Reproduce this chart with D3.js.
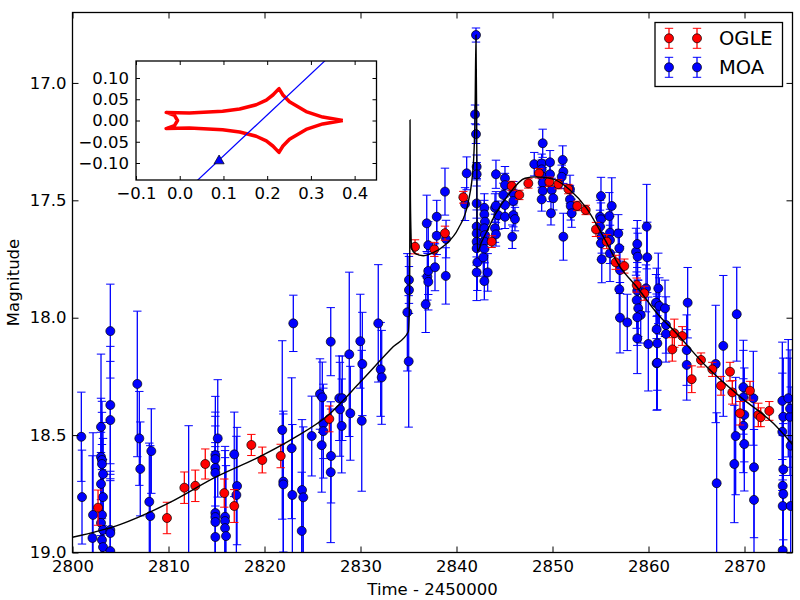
<!DOCTYPE html>
<html>
<head>
<meta charset="utf-8">
<script src="https://cdn.jsdelivr.net/npm/d3@7"></script>
<style>
  body { margin: 0; background: #fff; }
  text { font-family: "DejaVu Sans", sans-serif; }
</style>
</head>
<body>
<div id="chart"></div>
<script>
// MOA photometry: [time - 2450000, magnitude, error]
var moa = [
  [2800.92, 18.507, 0.19], [2800.99, 18.764, 0.20], [2802.08, 18.938, 0.35], [2802.14, 18.840, 0.35],
  [2802.97, 18.465, 0.31], [2802.97, 18.593, 0.25], [2803.07, 18.606, 0.25], [2803.07, 18.623, 0.22],
  [2803.18, 18.666, 0.22], [2802.97, 18.708, 0.22], [2803.18, 18.764, 0.25], [2803.07, 18.840, 0.30],
  [2802.97, 18.874, 0.30], [2803.18, 18.904, 0.30], [2803.07, 18.947, 0.30], [2803.18, 18.977, 0.30],
  [2803.94, 18.904, 0.25], [2803.94, 18.917, 0.25], [2803.94, 18.994, 0.30], [2803.94, 18.057, 0.20],
  [2803.94, 18.372, 0.25], [2803.94, 18.436, 0.25],
  [2806.75, 18.282, 0.31], [2806.96, 18.514, 0.20], [2807.06, 18.644, 0.20], [2808.21, 18.568, 0.18],
  [2808.00, 18.784, 0.25], [2808.10, 18.845, 0.30], [2812.10, 19.050, 0.59],
  [2815.13, 18.514, 0.25], [2814.88, 18.585, 0.25], [2814.88, 18.602, 0.20], [2814.88, 18.640, 0.22],
  [2814.88, 18.661, 0.20], [2814.88, 18.832, 0.30], [2814.88, 18.849, 0.30], [2814.88, 18.870, 0.30],
  [2814.88, 18.934, 0.30], [2815.89, 18.848, 0.30], [2815.89, 18.866, 0.30], [2815.89, 18.896, 0.30],
  [2815.99, 18.930, 0.30], [2816.85, 18.582, 0.18], [2817.14, 18.717, 0.25], [2817.07, 18.755, 0.25],
  [2823.00, 18.024, 0.12], [2821.85, 18.478, 0.38], [2821.96, 18.698, 0.30], [2821.96, 18.710, 0.30],
  [2822.83, 18.556, 0.30], [2822.90, 18.755, 0.30], [2823.91, 18.734, 0.30], [2824.04, 18.765, 0.30],
  [2823.88, 18.908, 0.25], [2824.92, 18.504, 0.17], [2825.78, 18.325, 0.15], [2826.02, 18.339, 0.15],
  [2826.13, 18.450, 0.15], [2826.13, 18.483, 0.20], [2825.96, 18.543, 0.20], [2826.90, 18.102, 0.145],
  [2826.93, 18.589, 0.20], [2826.90, 18.658, 0.30], [2827.79, 18.343, 0.18], [2828.10, 18.343, 0.18],
  [2827.86, 18.390, 0.20], [2828.04, 18.461, 0.20], [2828.83, 18.156, 0.35], [2828.94, 18.407, 0.20],
  [2829.98, 18.100, 0.20], [2830.19, 18.197, 0.22], [2830.13, 18.439, 0.30], [2831.85, 18.024, 0.25],
  [2832.10, 18.220, 0.20], [2832.21, 18.254, 0.20], [2834.88, 17.977, 0.25], [2835.02, 18.186, 0.28],
  [2835.05, 17.839, 0.10], [2835.05, 17.882, 0.10],
  [2836.79, 17.943, 0.12], [2836.96, 17.825, 0.10], [2837.06, 17.801, 0.10], [2837.06, 17.847, 0.12],
  [2837.76, 17.785, 0.10], [2836.90, 17.598, 0.12], [2837.06, 17.691, 0.10], [2837.94, 17.651, 0.08],
  [2837.94, 17.570, 0.07], [2838.80, 17.463, 0.10], [2838.91, 17.665, 0.08], [2838.88, 17.822, 0.12],
  [2840.89, 17.516, 0.07], [2841.06, 17.385, 0.07], [2842.03, 16.796, 0.03], [2841.93, 17.134, 0.04],
  [2842.03, 17.218, 0.04], [2842.10, 17.357, 0.05], [2842.10, 17.389, 0.05], [2842.10, 17.513, 0.10],
  [2842.10, 17.612, 0.10], [2842.10, 17.641, 0.10], [2842.10, 17.676, 0.10], [2842.10, 17.704, 0.10],
  [2842.17, 17.764, 0.12], [2842.10, 17.807, 0.12], [2842.90, 17.532, 0.06], [2842.90, 17.560, 0.06],
  [2842.97, 17.591, 0.06], [2842.90, 17.619, 0.06], [2842.97, 17.648, 0.06], [2842.90, 17.676, 0.06],
  [2842.90, 17.707, 0.06], [2842.79, 17.743, 0.08], [2842.90, 17.844, 0.08], [2843.25, 17.807, 0.08],
  [2844.01, 17.532, 0.06], [2844.01, 17.619, 0.06], [2844.11, 17.645, 0.05], [2844.11, 17.389, 0.06],
  [2844.11, 17.523, 0.06], [2844.35, 17.563, 0.06], [2845.05, 17.406, 0.05], [2845.05, 17.435, 0.05],
  [2844.88, 17.477, 0.05], [2845.05, 17.520, 0.05], [2845.05, 17.570, 0.05], [2845.92, 17.470, 0.05],
  [2845.92, 17.503, 0.05], [2845.92, 17.563, 0.05], [2846.09, 17.580, 0.05], [2845.81, 17.655, 0.05],
  [2848.98, 17.257, 0.06], [2848.10, 17.346, 0.05], [2848.87, 17.343, 0.04], [2848.87, 17.368, 0.04],
  [2849.74, 17.338, 0.05], [2848.98, 17.400, 0.04], [2848.98, 17.425, 0.04], [2848.98, 17.460, 0.04],
  [2848.87, 17.496, 0.05], [2849.74, 17.389, 0.04], [2849.92, 17.456, 0.05], [2850.08, 17.491, 0.05],
  [2849.84, 17.555, 0.05], [2851.06, 17.328, 0.06], [2851.13, 17.378, 0.05], [2850.96, 17.400, 0.05],
  [2851.82, 17.453, 0.06], [2851.82, 17.496, 0.06], [2851.90, 17.524, 0.06], [2852.00, 17.555, 0.06],
  [2851.13, 17.655, 0.10], [2855.05, 17.482, 0.08], [2854.95, 17.570, 0.07], [2855.05, 17.581, 0.07],
  [2854.95, 17.612, 0.07], [2855.13, 17.655, 0.07], [2855.05, 17.683, 0.07], [2855.13, 17.751, 0.10],
  [2856.17, 17.524, 0.12], [2855.92, 17.567, 0.10], [2855.99, 17.638, 0.10], [2855.99, 17.669, 0.10],
  [2855.99, 17.726, 0.12], [2856.85, 17.641, 0.08], [2856.96, 17.704, 0.08], [2857.03, 17.797, 0.10],
  [2856.96, 17.879, 0.12], [2857.03, 18.000, 0.15], [2857.79, 18.020, 0.12], [2858.70, 17.719, 0.10],
  [2858.83, 17.686, 0.10], [2858.87, 17.740, 0.10], [2859.81, 17.612, 0.18], [2859.87, 17.743, 0.15],
  [2858.83, 17.885, 0.12], [2858.77, 17.925, 0.12], [2858.93, 17.960, 0.12], [2859.19, 17.988, 0.12],
  [2858.83, 17.998, 0.12], [2858.83, 18.088, 0.15], [2859.98, 18.112, 0.20], [2860.85, 17.939, 0.15],
  [2860.85, 18.049, 0.15], [2860.92, 18.109, 0.20], [2860.85, 18.194, 0.20],
  [2859.74, 17.875, 0.10], [2861.02, 17.875, 0.15], [2860.78, 17.936, 0.12], [2861.13, 17.950, 0.12],
  [2861.72, 17.960, 0.12], [2861.82, 18.031, 0.12], [2861.82, 18.069, 0.12], [2860.92, 18.192, 0.20],
  [2864.08, 17.936, 0.15], [2863.98, 18.138, 0.15], [2863.98, 18.201, 0.15], [2869.19, 17.985, 0.20],
  [2867.79, 18.120, 0.30], [2867.00, 18.197, 0.25], [2867.10, 18.705, 0.30], [2869.08, 18.504, 0.25],
  [2868.94, 18.623, 0.25], [2869.88, 18.296, 0.20], [2869.88, 18.339, 0.20], [2869.98, 18.414, 0.20],
  [2869.88, 18.460, 0.20], [2869.98, 18.538, 0.20], [2870.92, 18.343, 0.20], [2870.99, 18.637, 0.30],
  [2870.99, 18.776, 0.30], [2873.94, 18.354, 0.25], [2874.56, 18.343, 0.25], [2874.04, 18.422, 0.25],
  [2874.74, 18.422, 0.25], [2873.94, 18.486, 0.25], [2874.04, 18.646, 0.30], [2873.98, 18.716, 0.30],
  [2874.04, 18.751, 0.30], [2873.98, 18.802, 0.30], [2874.81, 18.802, 0.30], [2874.81, 18.545, 0.25],
  [2874.74, 18.387, 0.25], [2873.98, 18.991, 0.30]
];

// OGLE photometry: [time - 2450000, magnitude, error]
var ogle = [
  [2802.66, 18.809, 0.075], [2809.84, 18.853, 0.067], [2811.65, 18.724, 0.067], [2812.79, 18.716, 0.067],
  [2813.83, 18.623, 0.064], [2815.81, 18.747, 0.060], [2816.85, 18.802, 0.070], [2818.63, 18.542, 0.045],
  [2819.77, 18.606, 0.055], [2821.69, 18.589, 0.050], [2826.75, 18.431, 0.055], [2835.68, 17.698, 0.030],
  [2837.69, 17.709, 0.030], [2838.80, 17.640, 0.030], [2840.71, 17.487, 0.025], [2843.66, 17.676, 0.025],
  [2845.75, 17.439, 0.020], [2846.54, 17.477, 0.020], [2847.48, 17.428, 0.020], [2848.60, 17.385, 0.020],
  [2849.67, 17.421, 0.020], [2850.60, 17.431, 0.020], [2851.65, 17.452, 0.020], [2852.58, 17.524, 0.020],
  [2853.46, 17.541, 0.020], [2854.53, 17.624, 0.030], [2855.65, 17.676, 0.030], [2856.58, 17.764, 0.030],
  [2857.48, 17.780, 0.030], [2858.77, 17.861, 0.030], [2859.56, 17.896, 0.030], [2862.69, 18.066, 0.060],
  [2863.52, 18.078, 0.040], [2862.48, 18.135, 0.050], [2864.50, 18.262, 0.057], [2865.47, 18.180, 0.030],
  [2866.65, 18.220, 0.030], [2867.55, 18.290, 0.040], [2868.49, 18.230, 0.040], [2868.73, 18.318, 0.050],
  [2869.53, 18.407, 0.050], [2870.57, 18.311, 0.040], [2871.44, 18.414, 0.050], [2871.69, 18.424, 0.040],
  [2872.58, 18.397, 0.040]
];

// binary-lens model light curve: [time - 2450000, magnitude]
var model = [
  [2800.00, 18.935], [2805.00, 18.880], [2810.00, 18.790], [2815.00, 18.677], [2819.50, 18.592],
  [2823.00, 18.514], [2826.50, 18.420], [2830.00, 18.273], [2833.40, 18.124], [2834.98, 18.060],
  [2835.12, 17.900], [2835.15, 17.400], [2835.16, 17.158], [2835.19, 17.450], [2835.26, 17.640],
  [2835.33, 17.704], [2835.68, 17.726], [2836.54, 17.736], [2837.42, 17.726], [2838.80, 17.690],
  [2840.19, 17.620], [2841.23, 17.506], [2841.75, 17.350], [2841.93, 17.137], [2842.03, 16.796],
  [2842.10, 17.137], [2842.14, 17.562], [2842.17, 17.719], [2842.63, 17.676], [2843.31, 17.620],
  [2844.01, 17.562], [2845.40, 17.477], [2847.14, 17.406], [2848.35, 17.400], [2850.08, 17.410],
  [2851.82, 17.456], [2853.56, 17.534], [2855.29, 17.655], [2857.03, 17.783], [2858.77, 17.868],
  [2861.20, 17.996], [2862.58, 18.052], [2866.06, 18.209], [2869.53, 18.336], [2873.00, 18.450],
  [2875.00, 18.540]
];

// inset: caustic curve, source trajectory and source position
var caustic = [
  [0.373, 0.000], [0.327, 0.008], [0.289, 0.021], [0.251, 0.044], [0.236, 0.060], [0.227, 0.075],
  [0.213, 0.060], [0.198, 0.048], [0.175, 0.037], [0.137, 0.027], [0.098, 0.022], [0.022, 0.0175],
  [-0.031, 0.019], [-0.012, 0.012], [-0.005, 0.000], [-0.012, -0.012], [-0.031, -0.019],
  [0.022, -0.0175], [0.098, -0.022], [0.137, -0.027], [0.175, -0.037], [0.198, -0.048], [0.213, -0.060],
  [0.227, -0.075], [0.236, -0.060], [0.251, -0.044], [0.289, -0.021], [0.327, -0.008], [0.373, 0.000]
];
var trajectory = [[0.030, -0.151], [0.345, 0.153]];
var source = [[0.090, -0.095]];

var xTicks = [2800, 2810, 2820, 2830, 2840, 2850, 2860, 2870];
var yTicks = [17.0, 17.5, 18.0, 18.5, 19.0];
var insetXTicks = [-0.1, 0.0, 0.1, 0.2, 0.3, 0.4];
var insetYTicks = [-0.10, -0.05, 0.00, 0.05, 0.10];

var margin = {top: 12.5, left: 72.5},
    width = 720,
    height = 540;

var svg = d3.select("#chart")
            .append("svg")
            .attr("width", 800)
            .attr("height", 600);

svg.append("defs").append("clipPath")
   .attr("id", "plot-clip")
   .append("rect")
   .attr("width", width)
   .attr("height", height);

var g = svg.append("g")
           .attr("transform", "translate(" + margin.left + "," + margin.top + ")");

var x = d3.scaleLinear().domain([2800, 2875]).range([0, width]);
var y = d3.scaleLinear().domain([19.0, 16.70]).range([height, 0]);

var plot = g.append("g").attr("clip-path", "url(#plot-clip)");

// error bars + markers
function drawSeries(data, color) {
    var s = plot.append("g");
    s.selectAll("line.bar")
     .data(data)
     .enter()
     .append("line")
     .attr("x1", function(d) { return x(d[0]); })
     .attr("x2", function(d) { return x(d[0]); })
     .attr("y1", function(d) { return y(d[1] - d[2]); })
     .attr("y2", function(d) { return y(d[1] + d[2]); })
     .attr("stroke", color)
     .attr("stroke-width", 1.3);
    [-1, 1].forEach(function(sign) {
        s.selectAll(null)
         .data(data)
         .enter()
         .append("line")
         .attr("x1", function(d) { return x(d[0]) - 4.2; })
         .attr("x2", function(d) { return x(d[0]) + 4.2; })
         .attr("y1", function(d) { return y(d[1] + sign * d[2]); })
         .attr("y2", function(d) { return y(d[1] + sign * d[2]); })
         .attr("stroke", color)
         .attr("stroke-width", 1);
    });
    s.selectAll("circle")
     .data(data)
     .enter()
     .append("circle")
     .attr("cx", function(d) { return x(d[0]); })
     .attr("cy", function(d) { return y(d[1]); })
     .attr("r", 4.5)
     .attr("fill", color)
     .attr("stroke", "#000")
     .attr("stroke-width", 0.7);
}

drawSeries(moa, "#0000ff");
drawSeries(ogle, "#ff0000");

// model line
plot.append("path")
    .datum(model)
    .attr("fill", "none")
    .attr("stroke", "#000")
    .attr("stroke-width", 1.4)
    .attr("d", d3.line()
                 .curve(d3.curveMonotoneX)
                 .x(function(d) { return x(d[0]); })
                 .y(function(d) { return y(d[1]); }));

// axes: ticks point inward on all four sides
function styleAxis(sel) {
    sel.select(".domain").remove();
    sel.selectAll(".tick line").attr("stroke", "#000").attr("stroke-width", 1);
    sel.selectAll(".tick text").attr("fill", "#000");
}

g.append("g")
 .attr("transform", "translate(0," + height + ")")
 .call(d3.axisBottom(x).tickValues(xTicks).tickFormat(d3.format("d")).tickSize(-6).tickPadding(8))
 .attr("font-size", 16.5)
 .attr("font-family", "DejaVu Sans")
 .call(styleAxis);

g.append("g")
 .call(d3.axisTop(x).tickValues(xTicks).tickFormat("").tickSize(-6))
 .call(styleAxis);

g.append("g")
 .call(d3.axisLeft(y).tickValues(yTicks).tickFormat(d3.format(".1f")).tickSize(-6).tickPadding(6))
 .attr("font-size", 16.5)
 .attr("font-family", "DejaVu Sans")
 .call(styleAxis);

g.append("g")
 .attr("transform", "translate(" + width + ",0)")
 .call(d3.axisRight(y).tickValues(yTicks).tickFormat("").tickSize(-6))
 .call(styleAxis);

g.append("rect")
 .attr("width", width)
 .attr("height", height)
 .attr("fill", "none")
 .attr("stroke", "#000")
 .attr("stroke-width", 1.3);

// axis titles
svg.append("text")
   .attr("x", margin.left + width / 2)
   .attr("y", 595)
   .attr("text-anchor", "middle")
   .attr("font-size", 16.5)
   .text("Time - 2450000");

svg.append("text")
   .attr("transform", "translate(19," + (margin.top + height / 2) + ") rotate(-90)")
   .attr("text-anchor", "middle")
   .attr("font-size", 16.5)
   .text("Magnitude");

// legend
var legend = svg.append("g");
legend.append("rect")
      .attr("x", 655)
      .attr("y", 22.5)
      .attr("width", 127.5)
      .attr("height", 64)
      .attr("fill", "#fff")
      .attr("stroke", "#000")
      .attr("stroke-width", 1.3);

[{name: "OGLE", color: "#ff0000", cy: 38.3},
 {name: "MOA", color: "#0000ff", cy: 67.3}].forEach(function(item) {
    [669, 697].forEach(function(cx) {
        legend.append("line")
              .attr("x1", cx).attr("x2", cx)
              .attr("y1", item.cy - 10).attr("y2", item.cy + 10)
              .attr("stroke", item.color)
              .attr("stroke-width", 1.3);
        [-10, 10].forEach(function(off) {
            legend.append("line")
                  .attr("x1", cx - 4.2).attr("x2", cx + 4.2)
                  .attr("y1", item.cy + off).attr("y2", item.cy + off)
                  .attr("stroke", item.color);
        });
        legend.append("circle")
              .attr("cx", cx).attr("cy", item.cy)
              .attr("r", 4.5)
              .attr("fill", item.color)
              .attr("stroke", "#000")
              .attr("stroke-width", 0.7);
    });
    legend.append("text")
          .attr("x", 719)
          .attr("y", item.cy + 7)
          .attr("font-size", 19.5)
          .text(item.name);
});

// inset: caustic and source trajectory
var inset = {left: 136, top: 61, width: 240.5, height: 119};

svg.append("defs").append("clipPath")
   .attr("id", "inset-clip")
   .append("rect")
   .attr("width", inset.width)
   .attr("height", inset.height);

var ig = svg.append("g")
            .attr("transform", "translate(" + inset.left + "," + inset.top + ")");

ig.append("rect")
  .attr("width", inset.width)
  .attr("height", inset.height)
  .attr("fill", "#fff");

var xi = d3.scaleLinear().domain([-0.1, 0.45]).range([0, inset.width]);
var yi = d3.scaleLinear().domain([-0.14, 0.14]).range([inset.height, 0]);

var iplot = ig.append("g").attr("clip-path", "url(#inset-clip)");

var iline = d3.line()
              .x(function(d) { return xi(d[0]); })
              .y(function(d) { return yi(d[1]); });

iplot.append("path")
     .datum(caustic)
     .attr("fill", "none")
     .attr("stroke", "#ff0000")
     .attr("stroke-width", 3.5)
     .attr("stroke-linejoin", "round")
     .attr("d", iline);

iplot.append("path")
     .datum(trajectory)
     .attr("fill", "none")
     .attr("stroke", "#0000ff")
     .attr("stroke-width", 1.2)
     .attr("d", iline);

iplot.selectAll("path.src")
     .data(source)
     .enter()
     .append("path")
     .attr("class", "src")
     .attr("transform", function(d) { return "translate(" + xi(d[0]) + "," + yi(d[1]) + ")"; })
     .attr("d", d3.symbol().type(d3.symbolTriangle).size(45))
     .attr("fill", "#0000ff")
     .attr("stroke", "#000")
     .attr("stroke-width", 0.7);

ig.append("g")
  .attr("transform", "translate(0," + inset.height + ")")
  .call(d3.axisBottom(xi).tickValues(insetXTicks).tickFormat(d3.format(".1f")).tickSize(-4).tickPadding(7))
  .attr("font-size", 16.5)
  .attr("font-family", "DejaVu Sans")
  .call(styleAxis);

ig.append("g")
  .call(d3.axisTop(xi).tickValues(insetXTicks).tickFormat("").tickSize(-4))
  .call(styleAxis);

ig.append("g")
  .call(d3.axisLeft(yi).tickValues(insetYTicks).tickFormat(d3.format(".2f")).tickSize(-4).tickPadding(7))
  .attr("font-size", 16.5)
  .attr("font-family", "DejaVu Sans")
  .call(styleAxis);

ig.append("g")
  .attr("transform", "translate(" + inset.width + ",0)")
  .call(d3.axisRight(yi).tickValues(insetYTicks).tickFormat("").tickSize(-4))
  .call(styleAxis);

ig.append("rect")
  .attr("width", inset.width)
  .attr("height", inset.height)
  .attr("fill", "none")
  .attr("stroke", "#000")
  .attr("stroke-width", 1.3);
</script>
</body>
</html>
